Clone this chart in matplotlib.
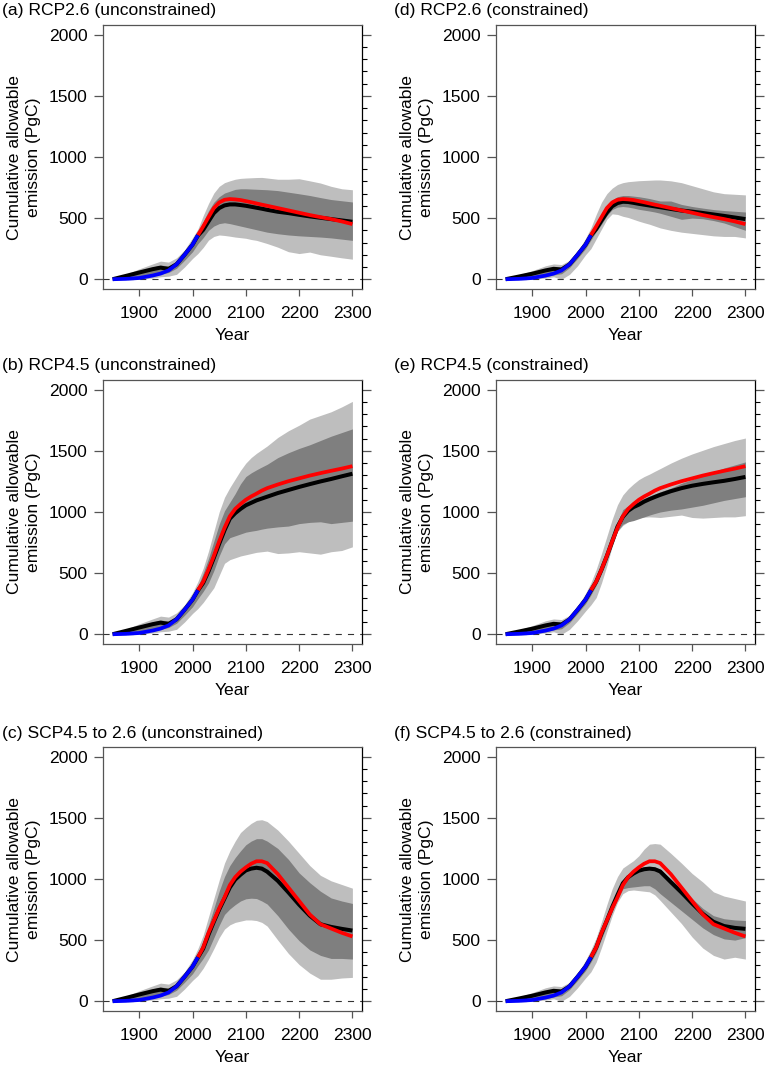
import matplotlib
matplotlib.use("Agg")
import matplotlib.pyplot as plt
from matplotlib.ticker import MultipleLocator, FixedLocator

plt.rcParams['font.family'] = ['Liberation Sans', 'DejaVu Sans']
FS = 12.6
plt.rcParams['font.size'] = FS

# ---------------- data ----------------
years = [1850, 1875, 1900, 1925, 1940, 1955, 1970, 1985, 2000, 2010,
         2020, 2030, 2040, 2050, 2060, 2070, 2080, 2090, 2100,
         2110, 2120, 2130, 2140, 2160, 2180, 2200, 2220, 2240, 2260, 2280, 2300]

hist_years = [1850, 1875, 1900, 1925, 1940, 1955, 1970, 1985, 2000, 2010]
hist_emission = [0, 3, 10, 30, 46, 72, 122, 200, 283, 360]

future_years = [2010, 2020, 2030, 2040, 2050, 2060, 2070, 2080, 2090, 2100,
                2110, 2120, 2130, 2140, 2160, 2180, 2200, 2220, 2240, 2260, 2280, 2300]
red_rcp26 = [360, 432, 508, 582, 628, 650, 656, 653, 648, 639, 630, 620, 610, 601,
             582, 563, 544, 525, 508, 492, 473, 451]
red_rcp45 = [360, 430, 530, 640, 760, 870, 965, 1025, 1065, 1100, 1127, 1150, 1175, 1195,
             1225, 1252, 1275, 1298, 1318, 1337, 1355, 1375]
red_scp = [360, 440, 560, 660, 760, 850, 950, 1015, 1060, 1095, 1125, 1145, 1145, 1130,
           1040, 930, 820, 710, 630, 595, 560, 530]

# (a) RCP2.6 unconstrained
a_mean = [0, 27, 55, 82, 95, 84, 122, 200, 283, 357, 404, 473, 541, 582, 604, 612, 612, 607, 601,
          593, 585, 577, 568, 552, 541, 527, 514, 503, 492, 481, 470]
a_light_hi = [0, 40, 85, 125, 148, 140, 175, 240, 340, 410, 520, 620, 705, 760, 790, 805, 818, 825, 828,
              830, 832, 833, 828, 818, 818, 822, 805, 787, 760, 740, 732]
a_light_lo = [0, 0, 0, 10, 20, 25, 40, 100, 170, 210, 260, 320, 350, 362, 358, 352, 345, 340, 335,
              325, 318, 305, 292, 262, 225, 210, 222, 200, 188, 175, 164]
a_dark_hi = [0, 25, 60, 100, 115, 110, 150, 220, 305, 380, 470, 560, 630, 675, 705, 720, 735, 740, 740,
             738, 736, 734, 732, 725, 712, 699, 685, 668, 652, 642, 632]
a_dark_lo = [0, 0, 10, 25, 40, 55, 90, 155, 225, 290, 340, 400, 435, 455, 462, 455, 445, 435, 425,
             415, 405, 395, 385, 372, 362, 355, 350, 345, 338, 328, 318]

# (d) RCP2.6 constrained
d_mean = [0, 22, 45, 72, 85, 80, 122, 200, 283, 357, 410, 480, 545, 597, 623, 634, 632, 625, 617,
          610, 603, 596, 589, 575, 562, 553, 542, 530, 518, 505, 492]
d_light_hi = [0, 35, 70, 110, 125, 120, 155, 225, 335, 420, 530, 630, 700, 745, 775, 790, 798, 802, 806,
              808, 810, 812, 812, 805, 790, 765, 740, 715, 700, 695, 690]
d_light_lo = [0, 0, 0, 10, 20, 0, 40, 110, 200, 250, 330, 410, 490, 535, 530, 515, 505, 490, 475,
              462, 450, 435, 420, 400, 385, 375, 365, 355, 350, 350, 338]
d_dark_hi = [0, 20, 45, 80, 95, 90, 140, 210, 300, 380, 460, 540, 605, 650, 675, 685, 685, 680, 675,
             668, 660, 650, 640, 640, 612, 595, 582, 570, 562, 556, 550]
d_dark_lo = [0, 0, 5, 20, 35, 45, 95, 170, 250, 320, 390, 450, 520, 570, 590, 595, 590, 582, 572,
             565, 558, 550, 540, 515, 490, 500, 495, 480, 460, 430, 400]

# (b) RCP4.5 unconstrained
b_mean = [0, 27, 55, 82, 95, 84, 122, 200, 283, 357, 420, 515, 625, 740, 850, 945, 990, 1025, 1055,
          1075, 1095, 1110, 1125, 1155, 1180, 1205, 1228, 1250, 1270, 1292, 1313]
b_light_hi = [0, 40, 85, 125, 148, 140, 175, 240, 340, 430, 540, 680, 840, 1000, 1120, 1200, 1270, 1340, 1400,
              1445, 1480, 1510, 1540, 1610, 1665, 1710, 1760, 1790, 1820, 1860, 1905]
b_light_lo = [0, 0, 0, 10, 20, 25, 40, 100, 170, 210, 260, 320, 380, 480, 580, 610, 625, 640, 650,
              660, 670, 675, 680, 660, 665, 675, 665, 655, 675, 685, 715]
b_dark_hi = [0, 25, 60, 100, 115, 110, 150, 220, 305, 390, 500, 620, 760, 900, 1010, 1080, 1150, 1230, 1290,
             1320, 1345, 1368, 1390, 1445, 1485, 1520, 1550, 1585, 1620, 1650, 1680]
b_dark_lo = [0, 0, 10, 25, 40, 55, 90, 155, 225, 290, 350, 420, 520, 640, 740, 790, 805, 820, 835,
             843, 850, 860, 868, 878, 885, 905, 915, 920, 905, 915, 925]

# (e) RCP4.5 constrained
e_mean = [0, 22, 45, 72, 85, 80, 122, 200, 283, 357, 430, 530, 640, 760, 880, 960, 1010, 1040, 1060,
          1085, 1105, 1123, 1140, 1170, 1195, 1215, 1230, 1243, 1255, 1270, 1287]
e_light_hi = [0, 35, 70, 110, 125, 120, 155, 225, 335, 420, 530, 660, 800, 940, 1060, 1140, 1190, 1230, 1265,
              1290, 1310, 1333, 1355, 1400, 1440, 1475, 1505, 1535, 1560, 1585, 1605]
e_light_lo = [0, 0, 0, 10, 20, 0, 40, 110, 190, 240, 300, 420, 560, 720, 840, 890, 920, 940, 955,
              958, 960, 958, 955, 965, 975, 955, 950, 955, 960, 960, 970]
e_dark_hi = [0, 20, 45, 80, 95, 90, 140, 210, 300, 380, 465, 570, 680, 800, 915, 1020, 1050, 1075, 1095,
             1112, 1130, 1148, 1165, 1195, 1235, 1265, 1300, 1330, 1360, 1385, 1410]
e_dark_lo = [0, 0, 5, 20, 35, 45, 95, 170, 250, 320, 400, 495, 600, 720, 845, 900, 920, 930, 945,
             960, 975, 988, 1000, 1015, 1025, 1040, 1055, 1075, 1095, 1110, 1125]

# (c) SCP4.5 to 2.6 unconstrained
c_mean = [0, 27, 55, 82, 95, 84, 122, 200, 283, 357, 430, 545, 650, 750, 840, 930, 995, 1035, 1070,
          1085, 1092, 1085, 1060, 985, 890, 790, 700, 630, 608, 592, 578]
c_light_hi = [0, 40, 85, 125, 148, 140, 175, 240, 340, 430, 540, 690, 840, 990, 1130, 1230, 1310, 1380, 1420,
              1455, 1480, 1485, 1470, 1400, 1310, 1210, 1110, 1030, 985, 955, 925]
c_light_lo = [0, 0, 0, 10, 20, 25, 40, 100, 170, 210, 270, 345, 430, 520, 590, 625, 645, 655, 665,
              665, 660, 645, 615, 500, 390, 300, 230, 180, 180, 190, 195]
c_dark_hi = [0, 25, 60, 100, 115, 110, 150, 220, 305, 390, 500, 620, 760, 900, 1020, 1110, 1175, 1230, 1280,
             1310, 1330, 1330, 1310, 1250, 1160, 1050, 970, 900, 845, 820, 800]
c_dark_lo = [0, 0, 10, 25, 40, 55, 90, 155, 225, 290, 350, 420, 520, 620, 710, 755, 790, 820, 838,
             843, 840, 820, 795, 700, 590, 495, 420, 375, 350, 350, 345]

# (f) SCP4.5 to 2.6 constrained
f_mean = [0, 22, 45, 72, 85, 80, 122, 200, 283, 357, 440, 555, 660, 770, 870, 965, 1015, 1045, 1068,
          1080, 1085, 1080, 1062, 975, 890, 800, 715, 650, 615, 600, 592]
f_light_hi = [0, 35, 70, 110, 125, 120, 155, 225, 335, 420, 520, 650, 790, 920, 1020, 1090, 1120, 1150, 1190,
              1245, 1285, 1290, 1285, 1210, 1130, 1045, 975, 895, 860, 840, 820]
f_light_lo = [0, 0, 0, 10, 20, 0, 40, 110, 190, 240, 320, 440, 570, 700, 810, 880, 905, 910, 905,
              900, 895, 870, 825, 730, 635, 525, 435, 375, 345, 360, 345]
f_dark_hi = [0, 20, 45, 80, 95, 90, 140, 210, 300, 380, 470, 590, 700, 810, 905, 990, 1035, 1060, 1085,
             1098, 1102, 1097, 1080, 1000, 920, 840, 760, 700, 675, 665, 660]
f_dark_lo = [0, 0, 5, 20, 35, 45, 95, 170, 250, 320, 400, 510, 620, 730, 835, 920, 930, 935, 940,
             945, 945, 920, 880, 810, 740, 670, 600, 545, 510, 500, 520]

titles = ["(a) RCP2.6 (unconstrained)", "(d) RCP2.6 (constrained)",
          "(b) RCP4.5 (unconstrained)", "(e) RCP4.5 (constrained)",
          "(c) SCP4.5 to 2.6 (unconstrained)", "(f) SCP4.5 to 2.6 (constrained)"]

x_ticks = [1900, 2000, 2100, 2200, 2300]
y_ticks = [0, 500, 1000, 1500, 2000]

panels = [
    (a_mean, a_light_lo, a_light_hi, a_dark_lo, a_dark_hi, red_rcp26),
    (d_mean, d_light_lo, d_light_hi, d_dark_lo, d_dark_hi, red_rcp26),
    (b_mean, b_light_lo, b_light_hi, b_dark_lo, b_dark_hi, red_rcp45),
    (e_mean, e_light_lo, e_light_hi, e_dark_lo, e_dark_hi, red_rcp45),
    (c_mean, c_light_lo, c_light_hi, c_dark_lo, c_dark_hi, red_scp),
    (f_mean, f_light_lo, f_light_hi, f_dark_lo, f_dark_hi, red_scp),
]

# ---------------- layout ----------------
W, H = 766, 1065
fig = plt.figure(figsize=(W / 100, H / 100), dpi=100)

col_left = [103, 496]
row_top = [25, 380, 747]
ax_w, ax_h = 259, 264
title_x = [2, 394]
title_base = [14.5, 370, 738]

SPINE = '#555555'
LIGHT = '#BEBEBE'
DARK = '#7F7F7F'

for i, (mean, llo, lhi, dlo, dhi, red) in enumerate(panels):
    r, c = divmod(i, 2)
    left, top = col_left[c], row_top[r]
    ax = fig.add_axes([left / W, 1 - (top + ax_h) / H, ax_w / W, ax_h / H])

    ax.fill_between(years, llo, lhi, color=LIGHT, lw=0, zorder=1)
    ax.fill_between(years, dlo, dhi, color=DARK, lw=0, zorder=2)
    ax.axhline(0, color='#333333', lw=0.8, ls=(0, (5.5, 5.5)), zorder=3)
    ax.plot(years, mean, color='black', lw=2.9, solid_joinstyle='round',
            solid_capstyle='butt', zorder=4)
    ax.plot(future_years, red, color='#FF0000', lw=2.7, solid_joinstyle='round',
            solid_capstyle='butt', zorder=5)
    ax.plot(hist_years, hist_emission, color='#0000FF', lw=2.7, solid_joinstyle='round',
            solid_capstyle='butt', zorder=6)

    ax.set_xlim(1832, 2318)
    ax.set_ylim(-80, 2080)
    ax.xaxis.set_major_locator(FixedLocator(x_ticks))
    ax.yaxis.set_major_locator(FixedLocator(y_ticks))
    ax.yaxis.set_minor_locator(MultipleLocator(100))

    for s in ['left', 'bottom', 'top']:
        ax.spines[s].set_color(SPINE)
        ax.spines[s].set_linewidth(0.9)
    ax.spines['right'].set_color('black')
    ax.spines['right'].set_linewidth(0.9)

    ax.tick_params(axis='x', which='major', direction='out', length=5, width=0.9,
                   color=SPINE, labelsize=FS, pad=7, top=False)
    ax.tick_params(axis='y', which='major', direction='out', length=6.5, width=0.9,
                   color=SPINE, labelsize=FS, pad=4.5, left=True, right=True)
    ax.tick_params(axis='y', which='minor', direction='out', length=3.5, width=0.8,
                   color='black', left=False, right=True)

    ax.set_xlabel("Year", fontsize=FS, labelpad=5)
    ax.set_ylabel("Cumulative allowable\nemission (PgC)", fontsize=FS, labelpad=6,
                  linespacing=1.3)

    fig.text(title_x[c] / W, 1 - title_base[r] / H, titles[i], fontsize=FS,
             ha='left', va='baseline')

fig.savefig("out.png", dpi=100)
